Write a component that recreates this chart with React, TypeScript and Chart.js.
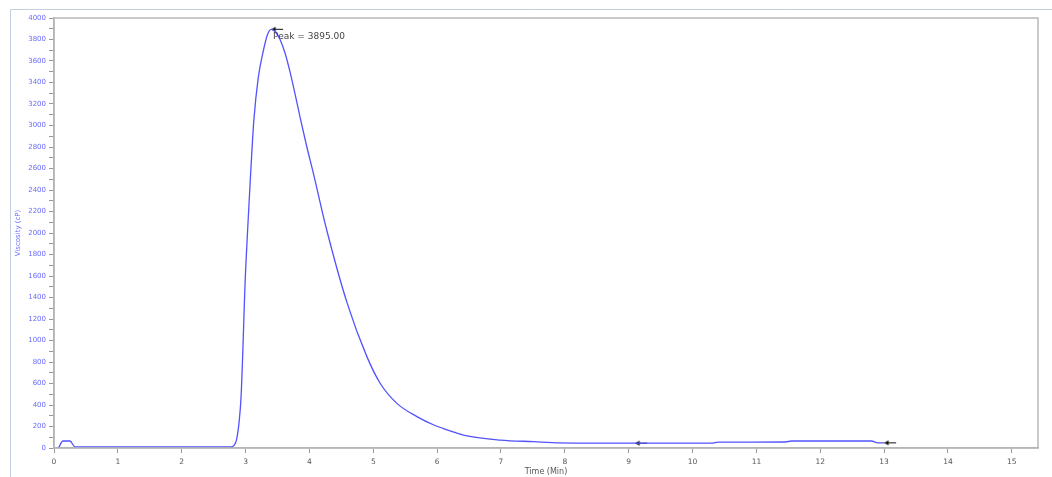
import { useEffect, useRef } from "react";
import { Chart, registerables } from "chart.js";

Chart.register(...registerables);

// ---- data ----
const timeMin = [
  0.07, 0.14, 0.25, 0.33, 1.0, 2.0, 2.76, 2.82, 2.86, 2.9, 2.93, 2.96, 2.99, 3.03, 3.07, 3.13,
  3.2, 3.28, 3.34, 3.4, 3.47, 3.54, 3.62, 3.7, 3.78, 3.86, 3.96, 4.06, 4.27, 4.59, 4.9, 5.11, 5.37, 5.69,
  5.95, 6.2, 6.47, 6.99, 7.51, 7.93, 8.5, 9.1, 10.3, 10.4, 11.45, 11.55, 12.8, 12.9, 13.0,
];
const viscosity = [
  0, 65, 65, 10, 10, 10, 10, 25, 80, 250, 480, 950, 1500, 2000, 2450, 3050,
  3450, 3700, 3840, 3895, 3870, 3800, 3670, 3490, 3280, 3060, 2800, 2560, 2030, 1350, 850, 600, 415, 290,
  214, 160, 112, 74, 59, 48, 46, 45, 45, 55, 56, 65, 65, 48, 48,
];
const markerTimes = [3.4, 9.1, 13.0];
const markerValues = [3895, 45, 48];
const peakLabel = "Peak = 3895.00";
const xTickValues = [0, 1, 2, 3, 4, 5, 6, 7, 8, 9, 10, 11, 12, 13, 14, 15];
const yTickValues = Array.from({ length: 41 }, (_, i) => i * 100);
const xTitle = "Time (Min)";
const yTitle = "Viscosity (cP)";

function makeArrow(): HTMLCanvasElement {
  const c = document.createElement("canvas");
  c.width = 30;
  c.height = 9;
  const g = c.getContext("2d")!;
  g.fillStyle = "#111";
  g.strokeStyle = "#111";
  g.beginPath();
  g.moveTo(15, 4.5);
  g.lineTo(19.5, 2);
  g.lineTo(19.5, 7);
  g.closePath();
  g.fill();
  g.beginPath();
  g.moveTo(15, 4.5);
  g.lineTo(27, 4.5);
  g.lineWidth = 1;
  g.stroke();
  return c;
}

export default function App() {
  const ref = useRef<HTMLCanvasElement | null>(null);

  useEffect(() => {
    if (!ref.current) return;
    const arrow = makeArrow();

    const framePlugin = {
      id: "frame",
      beforeDraw(chart: any) {
        const ctx = chart.ctx;
        ctx.save();
        ctx.fillStyle = "#ffffff";
        ctx.fillRect(0, 0, chart.width, chart.height);
        ctx.strokeStyle = "#c5cedd";
        ctx.lineWidth = 1;
        ctx.beginPath();
        ctx.moveTo(10.5, chart.height);
        ctx.lineTo(10.5, 9.5);
        ctx.lineTo(chart.width, 9.5);
        ctx.stroke();
        ctx.restore();
      },
      afterDraw(chart: any) {
        const { ctx, chartArea } = chart;
        ctx.save();
        ctx.strokeStyle = "#b8b8b8";
        ctx.lineWidth = 1.5;
        ctx.strokeRect(chartArea.left, chartArea.top, chartArea.right - chartArea.left, chartArea.bottom - chartArea.top);
        const meta = chart.getDatasetMeta(1);
        const pt = meta.data[0];
        if (pt) {
          ctx.fillStyle = "#444444";
          ctx.font = '9px "DejaVu Sans"';
          ctx.textAlign = "left";
          ctx.textBaseline = "middle";
          ctx.fillText(peakLabel, pt.x + 2, pt.y + 7);
        }
        ctx.restore();
      },
    };

    const chart = new Chart(ref.current, {
      type: "line",
      data: {
        datasets: [
          {
            data: timeMin.map((t, i) => ({ x: t, y: viscosity[i] })),
            borderColor: "#5252ff",
            borderWidth: 1.3,
            pointRadius: 0,
            cubicInterpolationMode: "monotone",
            fill: false,
          },
          {
            data: markerTimes.map((t, i) => ({ x: t, y: markerValues[i] })),
            showLine: false,
            pointStyle: arrow as any,
            pointRadius: 5,
            borderColor: "#000",
            backgroundColor: "#000",
          },
        ],
      },
      options: {
        responsive: false,
        animation: false,
        events: [],
        layout: { padding: { top: 18, right: 14, left: 0, bottom: 0 } },
        plugins: { legend: { display: false }, tooltip: { enabled: false } },
        scales: {
          x: {
            type: "linear",
            min: 0,
            max: 15.41,
            afterBuildTicks: (scale: any) => {
              scale.ticks = xTickValues.map((v) => ({ value: v }));
            },
            afterFit: (scale: any) => {
              scale.height = 29;
            },
            grid: { drawOnChartArea: false, drawTicks: true, tickLength: 5, color: "#999999" },
            border: { color: "#aaaaaa", width: 1.5 },
            ticks: {
              autoSkip: false,
              maxRotation: 0,
              padding: 5,
              color: "#555555",
              font: { family: "DejaVu Sans", size: 7.5 },
              callback: (v: any) => String(v),
            },
            title: {
              display: true,
              text: xTitle,
              color: "#555555",
              font: { family: "DejaVu Sans", size: 8 },
              padding: { top: 0, bottom: 0 },
            },
          },
          y: {
            type: "linear",
            min: 0,
            max: 4000,
            afterBuildTicks: (scale: any) => {
              scale.ticks = yTickValues.map((v) => ({ value: v }));
            },
            afterFit: (scale: any) => {
              scale.width = 54;
            },
            grid: { drawOnChartArea: false, drawTicks: true, tickLength: 5, color: "#999999" },
            border: { color: "#aaaaaa", width: 1.5 },
            ticks: {
              autoSkip: false,
              padding: 3,
              color: "#6a6aff",
              font: { family: "DejaVu Sans", size: 7 },
              callback: (v: any) => (Number(v) % 200 === 0 ? String(v) : ""),
            },
            title: {
              display: true,
              text: yTitle,
              color: "#6a6aff",
              font: { family: "DejaVu Sans", size: 7 },
              padding: { top: 14, bottom: 0 },
            },
          },
        },
      },
      plugins: [framePlugin],
    });

    return () => chart.destroy();
  }, []);

  return (
    <div style={{ position: "absolute", left: 0, top: 0, width: 1052, height: 477 }}>
      <canvas ref={ref} width={1052} height={477} style={{ width: 1052, height: 477, display: "block" }} />
    </div>
  );
}
